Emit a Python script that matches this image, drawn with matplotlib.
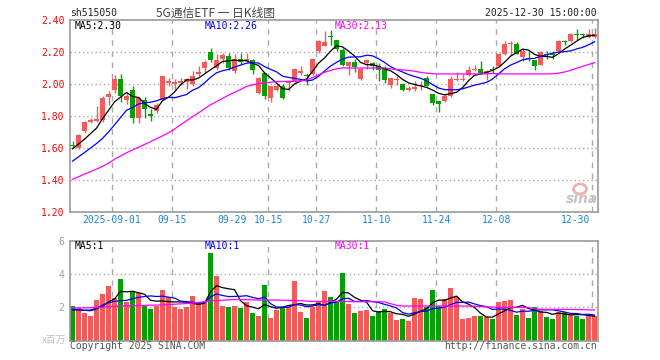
"""
Sina-style daily K-line chart for 5G通信ETF (sh515050) with volume panel.
"""

import matplotlib
matplotlib.use('Agg')
import matplotlib.pyplot as plt
from matplotlib.patches import Ellipse
import numpy as np

# ---- data (88 trading days, 2025-08-21 .. 2025-12-30) ----
opens = [1.620, 1.600, 1.705, 1.765, 1.768, 1.772, 1.920, 1.960, 2.030, 1.902,
         1.960, 1.785, 1.902, 1.815, 1.830, 1.902, 2.008, 2.003, 2.006, 2.010,
         2.002, 2.065, 2.100, 2.203, 2.100, 2.156, 2.173, 2.079, 2.156, 2.142,
         2.148, 1.945, 2.069, 1.912, 1.965, 1.990, 2.005, 2.017, 2.069, 2.058,
         2.062, 2.204, 2.240, 2.300, 2.273, 2.215, 2.110, 2.135, 2.031, 2.130,
         2.130, 2.110, 2.100, 1.996, 2.027, 2.002, 1.960, 1.967, 1.985, 2.037,
         1.940, 1.892, 1.892, 1.927, 2.025, 2.023, 2.058, 2.087, 2.094, 2.060,
         2.096, 2.110, 2.187, 2.248, 2.252, 2.169, 2.165, 2.148, 2.121, 2.185,
         2.185, 2.204, 2.268, 2.267, 2.313, 2.308, 2.294, 2.296]
highs = [1.645, 1.685, 1.767, 1.787, 1.865, 1.923, 1.954, 2.058, 2.060, 1.944,
         1.990, 1.920, 1.920, 1.845, 1.880, 2.053, 2.038, 2.030, 2.037, 2.035,
         2.080, 2.110, 2.148, 2.225, 2.190, 2.195, 2.194, 2.190, 2.194, 2.194,
         2.156, 2.045, 2.070, 1.990, 2.000, 2.000, 2.027, 2.100, 2.110, 2.069,
         2.162, 2.277, 2.330, 2.340, 2.277, 2.225, 2.137, 2.156, 2.100, 2.156,
         2.135, 2.130, 2.110, 2.040, 2.048, 2.006, 1.985, 2.017, 2.017, 2.048,
         1.940, 1.894, 1.940, 2.048, 2.073, 2.060, 2.110, 2.120, 2.142, 2.090,
         2.115, 2.194, 2.267, 2.267, 2.260, 2.219, 2.204, 2.152, 2.204, 2.204,
         2.204, 2.273, 2.277, 2.320, 2.344, 2.319, 2.344, 2.350]
lows = [1.600, 1.595, 1.695, 1.756, 1.765, 1.765, 1.870, 1.944, 1.890, 1.875,
        1.756, 1.756, 1.790, 1.767, 1.820, 1.898, 1.990, 1.965, 1.996, 1.970,
        1.990, 2.050, 2.070, 2.140, 2.090, 2.130, 2.090, 2.070, 2.127, 2.135,
        2.065, 1.940, 1.905, 1.885, 1.955, 1.905, 1.955, 2.010, 2.058, 1.996,
        2.058, 2.194, 2.235, 2.246, 2.204, 2.110, 2.058, 2.073, 2.025, 2.094,
        2.090, 2.017, 2.006, 1.975, 1.996, 1.954, 1.954, 1.954, 1.965, 1.985,
        1.870, 1.823, 1.885, 1.920, 2.017, 2.017, 2.048, 2.080, 2.065, 2.027,
        2.069, 2.106, 2.183, 2.183, 2.187, 2.142, 2.142, 2.090, 2.117, 2.156,
        2.156, 2.198, 2.246, 2.260, 2.277, 2.288, 2.288, 2.288]
closes = [1.615, 1.683, 1.765, 1.775, 1.782, 1.912, 1.940, 2.033, 1.923, 1.927,
          1.785, 1.912, 1.845, 1.800, 1.870, 2.052, 2.020, 2.010, 2.020, 2.030,
          2.047, 2.078, 2.140, 2.152, 2.152, 2.183, 2.100, 2.156, 2.137, 2.156,
          2.090, 2.040, 1.925, 1.985, 1.990, 1.915, 2.015, 2.094, 2.083, 2.048,
          2.156, 2.267, 2.260, 2.295, 2.219, 2.120, 2.135, 2.106, 2.094, 2.150,
          2.115, 2.085, 2.027, 2.037, 2.031, 1.965, 1.975, 1.979, 1.988, 1.990,
          1.880, 1.873, 1.927, 2.031, 2.027, 2.029, 2.090, 2.093, 2.069, 2.083,
          2.090, 2.187, 2.252, 2.256, 2.190, 2.204, 2.158, 2.115, 2.198, 2.183,
          2.181, 2.267, 2.263, 2.315, 2.308, 2.304, 2.315, 2.310]

ma5 = [1.595, 1.625, 1.655, 1.690, 1.724, 1.783, 1.835, 1.888, 1.918, 1.947,
       1.922, 1.916, 1.878, 1.854, 1.842, 1.896, 1.917, 1.950, 1.994, 2.026,
       2.025, 2.037, 2.063, 2.089, 2.114, 2.141, 2.145, 2.149, 2.146, 2.146,
       2.128, 2.116, 2.070, 2.039, 2.006, 1.971, 1.966, 2.000, 2.019, 2.031,
       2.079, 2.130, 2.163, 2.205, 2.239, 2.232, 2.206, 2.175, 2.135, 2.121,
       2.120, 2.110, 2.095, 2.083, 2.059, 2.029, 2.007, 1.997, 1.988, 1.979,
       1.962, 1.942, 1.932, 1.940, 1.948, 1.977, 2.021, 2.054, 2.062, 2.073,
       2.085, 2.104, 2.136, 2.174, 2.195, 2.218, 2.212, 2.185, 2.173, 2.172,
       2.167, 2.189, 2.218, 2.242, 2.267, 2.291, 2.301, 2.305]
ma10 = [1.518, 1.545, 1.572, 1.600, 1.628, 1.660, 1.700, 1.745, 1.790, 1.836,
        1.853, 1.875, 1.883, 1.886, 1.895, 1.909, 1.917, 1.914, 1.924, 1.934,
        1.961, 1.977, 2.007, 2.042, 2.070, 2.083, 2.091, 2.106, 2.118, 2.130,
        2.134, 2.131, 2.109, 2.092, 2.076, 2.049, 2.041, 2.035, 2.029, 2.019,
        2.025, 2.048, 2.081, 2.112, 2.135, 2.156, 2.168, 2.169, 2.170, 2.180,
        2.176, 2.158, 2.135, 2.109, 2.090, 2.075, 2.059, 2.047, 2.036, 2.020,
        1.996, 1.975, 1.965, 1.964, 1.964, 1.970, 1.981, 1.993, 2.001, 2.010,
        2.031, 2.063, 2.095, 2.118, 2.134, 2.151, 2.158, 2.160, 2.173, 2.183,
        2.192, 2.200, 2.202, 2.207, 2.219, 2.229, 2.245, 2.264]
ma30 = [1.405, 1.420, 1.437, 1.452, 1.468, 1.485, 1.505, 1.530, 1.550, 1.570,
        1.588, 1.605, 1.622, 1.640, 1.658, 1.676, 1.695, 1.718, 1.745, 1.770,
        1.796, 1.820, 1.845, 1.870, 1.890, 1.910, 1.930, 1.948, 1.965, 1.985,
        1.995, 2.002, 2.007, 2.011, 2.015, 2.016, 2.016, 2.017, 2.020, 2.025,
        2.040, 2.058, 2.073, 2.085, 2.095, 2.100, 2.100, 2.100, 2.100, 2.100,
        2.100, 2.100, 2.100, 2.095, 2.090, 2.088, 2.085, 2.080, 2.073, 2.068,
        2.064, 2.063, 2.063, 2.063, 2.063, 2.063, 2.063, 2.063, 2.063, 2.064,
        2.066, 2.064, 2.063, 2.063, 2.063, 2.063, 2.063, 2.063, 2.063, 2.063,
        2.064, 2.068, 2.075, 2.085, 2.098, 2.110, 2.122, 2.133]

# volume in millions of shares
volumes = [2.08, 1.94, 1.64, 1.48, 2.44, 2.80, 3.28, 2.54, 3.70, 2.34,
           2.98, 2.84, 2.08, 1.88, 2.08, 3.04, 2.64, 2.00, 1.88, 2.00,
           2.68, 2.34, 2.34, 5.28, 3.88, 2.08, 2.00, 2.08, 1.98, 2.34,
           1.68, 1.48, 3.34, 1.38, 1.84, 2.00, 2.00, 3.58, 1.74, 1.38,
           2.04, 2.38, 3.00, 2.64, 2.40, 4.08, 2.20, 1.68, 1.80, 1.84,
           1.48, 1.80, 1.88, 1.68, 1.24, 1.30, 1.20, 2.58, 2.50, 2.00,
           3.04, 2.08, 2.50, 3.16, 2.60, 1.32, 1.38, 1.48, 1.48, 1.44,
           1.30, 2.34, 2.40, 2.44, 1.54, 1.88, 1.38, 2.00, 1.80, 1.44,
           1.30, 1.74, 1.74, 1.54, 1.50, 1.30, 1.50, 1.50]
vma5 = [1.85, 1.85, 1.82, 1.80, 1.916, 2.060, 2.328, 2.508, 2.952, 2.932,
        2.968, 2.880, 2.788, 2.424, 2.372, 2.384, 2.344, 2.328, 2.328, 2.312,
        2.240, 2.180, 2.248, 2.928, 3.304, 3.184, 3.116, 3.064, 2.404, 2.096,
        2.016, 1.912, 2.164, 2.044, 1.944, 2.008, 2.112, 2.160, 2.232, 2.140,
        2.148, 2.224, 2.108, 2.288, 2.492, 2.900, 2.864, 2.600, 2.432, 2.320,
        1.800, 1.720, 1.760, 1.736, 1.616, 1.580, 1.460, 1.600, 1.764, 1.916,
        2.264, 2.440, 2.424, 2.556, 2.676, 2.332, 2.192, 1.988, 1.652, 1.420,
        1.416, 1.608, 1.792, 1.984, 2.004, 2.120, 1.928, 1.848, 1.720, 1.700,
        1.584, 1.656, 1.604, 1.552, 1.564, 1.564, 1.516, 1.468]
vma10 = [1.88, 1.86, 1.82, 1.84, 1.95, 2.14, 2.28, 2.36, 2.40, 2.424,
         2.514, 2.604, 2.648, 2.688, 2.652, 2.676, 2.612, 2.558, 2.376, 2.342,
         2.312, 2.262, 2.288, 2.628, 2.808, 2.712, 2.648, 2.656, 2.666, 2.700,
         2.600, 2.514, 2.614, 2.224, 2.020, 2.012, 2.012, 2.162, 2.138, 2.042,
         2.078, 2.168, 2.134, 2.260, 2.316, 2.524, 2.544, 2.354, 2.360, 2.406,
         2.350, 2.292, 2.180, 2.084, 1.968, 1.690, 1.590, 1.680, 1.750, 1.766,
         1.922, 1.950, 2.012, 2.160, 2.296, 2.298, 2.316, 2.206, 2.104, 2.048,
         1.874, 1.900, 1.890, 1.818, 1.712, 1.768, 1.768, 1.820, 1.852, 1.852,
         1.852, 1.792, 1.726, 1.636, 1.632, 1.574, 1.586, 1.536]
vma30 = [1.96, 1.97, 1.97, 1.98, 1.99, 2.01, 2.04, 2.06, 2.08, 2.09,
         2.10, 2.11, 2.12, 2.13, 2.14, 2.15, 2.17, 2.19, 2.21, 2.23,
         2.26, 2.30, 2.34, 2.38, 2.41, 2.43, 2.45, 2.47, 2.47, 2.46,
         2.45, 2.44, 2.44, 2.44, 2.44, 2.43, 2.42, 2.41, 2.40, 2.38,
         2.36, 2.35, 2.35, 2.36, 2.36, 2.35, 2.35, 2.34, 2.34, 2.34,
         2.34, 2.34, 2.32, 2.22, 2.12, 2.08, 2.08, 2.08, 2.08, 2.08,
         2.08, 2.08, 2.08, 2.08, 2.08, 2.08, 2.08, 2.07, 2.05, 2.03,
         2.02, 2.00, 2.00, 2.00, 2.00, 2.00, 1.98, 1.92, 1.89, 1.88,
         1.88, 1.88, 1.88, 1.87, 1.87, 1.86, 1.85, 1.84]

# date labels under the price panel (index of the trading day)
date_labels = ['2025-09-01', '09-15', '09-29', '10-15', '10-27', '11-10', '11-24', '12-08', '12-30']
date_index = [7, 17, 27, 33, 41, 51, 61, 71, 87]
grid_index = [7, 17, 33, 41, 51, 61, 71, 87]   # no grid line at 09-29

price_ticks = [1.20, 1.40, 1.60, 1.80, 2.00, 2.20, 2.40]
vol_ticks = [2, 4, 6]

price_ma_labels = ['MA5:2.30', 'MA10:2.26', 'MA30:2.13']
vol_ma_labels = ['MA5:1', 'MA10:1', 'MA30:1']

# ---- styling ----
RED = '#f55a5a'
GREEN = '#06a006'
MA_COLORS = ['#000000', '#0000ff', '#ff00ff']
FRAME = '#9a9a9a'
GRID = '#aaaaaa'
MONO = 'DejaVu Sans Mono'
CJK = ['Noto Sans CJK SC', 'DejaVu Sans']

W, H = 660, 360
fig = plt.figure(figsize=(W / 100, H / 100), dpi=100)


def fx(x):
    return x / W


def fy(y):
    return 1 - y / H


def add_panel(left, top, right, bottom):
    return fig.add_axes([fx(left), fy(bottom), (right - left) / W, (bottom - top) / H])


n = len(closes)
x = np.arange(n)
up = [c >= o for o, c in zip(opens, closes)]
colors = [RED if u else GREEN for u in up]
xlim = (-0.42, 87.53)

ax = add_panel(70, 20, 597.7, 212)
axv = add_panel(70, 240.7, 597.7, 340.7)

for a in (ax, axv):
    a.set_xlim(*xlim)
    a.set_xticks([])
    for s in a.spines.values():
        s.set_color(FRAME)
        s.set_linewidth(1.2)
    a.tick_params(axis='y', length=0, labelsize=7)
    for gi in grid_index:
        a.axvline(gi - 0.4, color=GRID, lw=1, ls=(0, (4, 4)), zorder=0)

# price panel
ax.set_ylim(1.20, 2.40)
ax.set_yticks(price_ticks)
ax.set_yticklabels(['{0:.2f}'.format(t) for t in price_ticks], color='#ff0000', family=MONO)
ax.tick_params(axis='y', pad=4)
for t in price_ticks[1:-1]:
    ax.axhline(t, color=GRID, lw=1, ls=(0, (1, 2)), zorder=0)

bottoms = [min(o, c) for o, c in zip(opens, closes)]
heights = [max(abs(c - o), 0.006) for o, c in zip(opens, closes)]
ax.vlines(x, lows, highs, colors=colors, lw=1, zorder=2)
ax.bar(x, heights, bottom=bottoms, width=0.8, color=colors, lw=0, zorder=3)

for vals, col in zip([ma5, ma10, ma30], MA_COLORS):
    ax.plot(x, vals, color=col, lw=0.9, zorder=4)

for lbl, col, px in zip(price_ma_labels, MA_COLORS, [75, 205, 335]):
    fig.text(fx(px), fy(26), lbl, color=col, fontsize=7, family=MONO, va='center', ha='left')

for lbl, idx in zip(date_labels, date_index):
    xpos = idx - 0.4 if lbl != '12-30' else 83.9
    ax.text(xpos, -8 / 192, lbl, transform=ax.get_xaxis_transform(), ha='center', va='center',
            color='#1c86d6', fontsize=7, family=MONO, clip_on=False)

# volume panel
axv.set_ylim(0, 6)
axv.set_yticks(vol_ticks)
axv.set_yticklabels([str(t) for t in vol_ticks], color='#a0a0a0', family=MONO)
axv.tick_params(axis='y', pad=4)
for t in vol_ticks[:-1]:
    axv.axhline(t, color=GRID, lw=1, ls=(0, (1, 2)), zorder=0)
axv.bar(x, volumes, width=0.83, color=colors, lw=0, zorder=2)
for vals, col in zip([vma5, vma10, vma30], MA_COLORS):
    axv.plot(x, vals, color=col, lw=0.9, zorder=4)
for lbl, col, px in zip(vol_ma_labels, MA_COLORS, [75, 205, 335]):
    fig.text(fx(px), fy(246), lbl, color=col, fontsize=7, family=MONO, va='center', ha='left')

# header and footer texts
fig.text(fx(70), fy(13), 'sh515050', fontsize=7, family=MONO, color='#222222', va='center', ha='left')
fig.text(fx(216), fy(13), '5G通信ETF 一 日K线图', fontsize=8.5, family=CJK, color='#444444',
         va='center', ha='center')
fig.text(fx(597), fy(13), '2025-12-30 15:00:00', fontsize=7, family=MONO, color='#222222',
         va='center', ha='right')
fig.text(fx(66), fy(340), 'x百万', fontsize=7, family=CJK, color='#c0c0c0', va='center', ha='right')
fig.text(fx(70), fy(346), 'Copyright 2025 SINA.COM', fontsize=7, family=MONO, color='#555555',
         va='center', ha='left')
fig.text(fx(597), fy(346), 'http://finance.sina.com.cn', fontsize=7, family=MONO, color='#555555',
         va='center', ha='right')

# sina watermark
fig.add_artist(Ellipse((fx(580), fy(189)), 13 / W, 10 / H, transform=fig.transFigure,
                       facecolor='none', edgecolor='#f3b0b0', lw=2))
fig.text(fx(582), fy(199), 'sina', fontsize=10, style='italic', weight='bold', color='#c4c4c4',
         family='DejaVu Sans', va='center', ha='center')

fig.savefig('out.png', dpi=100)
